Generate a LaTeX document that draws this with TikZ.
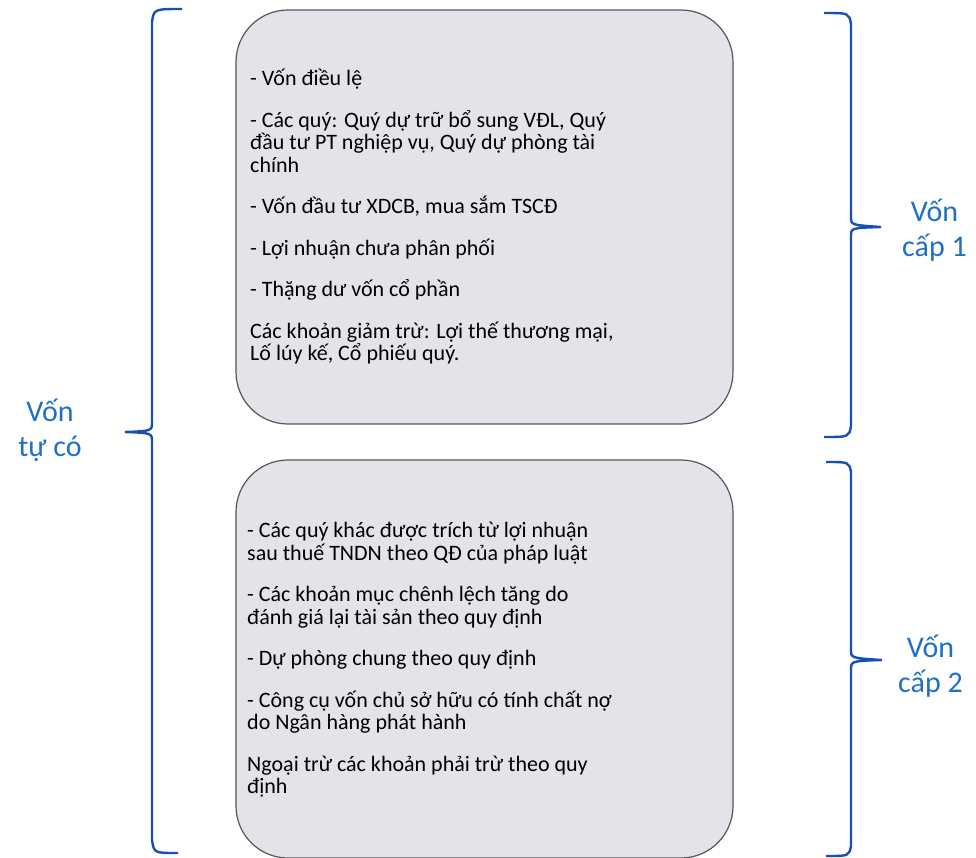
\documentclass[tikz,border=0pt]{standalone}
\usepackage{fontspec}
\setmainfont{Carlito}
\usetikzlibrary{positioning,calc}
\usepackage{xcolor}
\definecolor{boxfill}{RGB}{227,228,233}
\definecolor{boxline}{RGB}{85,85,90}
\definecolor{bracecol}{RGB}{22,80,176}
\definecolor{labelcol}{RGB}{30,112,196}

\tikzset{
  capbox/.style={draw=boxline, line width=1.2pt, fill=boxfill, rounded corners=52pt,
    minimum width=497pt, minimum height=#1, inner sep=0pt},
  boxtext/.style={anchor=north west, align=left, inner sep=0pt,
    font=\fontsize{22}{22.5}\selectfont},
  brace/.style={draw=bracecol, line width=2.4pt},
  sidelabel/.style={text=labelcol, align=center, inner sep=0pt,
    font=\fontsize{30}{35}\selectfont}
}

\begin{document}
\begin{tikzpicture}[x=1pt,y=-1pt]
  \useasboundingbox (0,0) rectangle (976,858);
  % the two groups
  \node[capbox=414pt] (box1) at (484.5,217) {};
  \node[capbox=398pt] (box2) at (484.5,659) {};
  \node[boxtext] (txt1) at (250,69) {- Vốn điều lệ\\[19pt]
    - Các quý: Quý dự trữ bổ sung VĐL, Quý\\
    đầu tư PT nghiệp vụ, Quý dự phòng tài\\
    chính\\[19pt]
    - Vốn đầu tư XDCB, mua sắm TSCĐ\\[19pt]
    - Lợi nhuận chưa phân phối\\[19pt]
    - Thặng dư vốn cổ phần\\[19pt]
    Các khoản giảm trừ: Lợi thế thương mại,\\
    Lố lúy kế, Cổ phiếu quý.};
  \node[boxtext] (txt2) at (247,522) {- Các quý khác được trích từ lợi nhuận\\
    sau thuế TNDN theo QĐ của pháp luật\\[19pt]
    - Các khoản mục chênh lệch tăng do\\
    đánh giá lại tài sản theo quy định\\[19pt]
    - Dự phòng chung theo quy định\\[19pt]
    - Công cụ vốn chủ sở hữu có tính chất nợ\\
    do Ngân hàng phát hành\\[19pt]
    Ngoại trừ các khoản phải trừ theo quy\\
    định};
  % labels
  \node[sidelabel] (own) at (50,430) {Vốn\\tự có};
  \node[sidelabel, anchor=west] (tier1) at (902,230) {Vốn\\cấp 1};
  \node[sidelabel, anchor=west] (tier2) at (898,666) {Vốn\\cấp 2};
  % braces
  \coordinate (ownTop) at (182,9);
  \coordinate (ownBot) at (178,853);
  \coordinate (ownTip) at (125,432);
  \draw[brace] (ownTop) .. controls (154,9) .. (152,22) -- (152,422)
    .. controls (152,431) .. (ownTip) .. controls (152,433) .. (152,442)
    -- (152,840) .. controls (154,853) .. (ownBot);
  \coordinate (t1Top) at (824,13);
  \coordinate (t1Bot) at (824,437);
  \coordinate (t1Tip) at (881,227);
  \draw[brace] (t1Top) .. controls (849,13) .. (851,24) -- (851,217)
    .. controls (851,225) .. (t1Tip) .. controls (851,228) .. (851,236)
    -- (851,426) .. controls (849,437) .. (t1Bot);
  \coordinate (t2Top) at (826,462);
  \coordinate (t2Bot) at (826,856);
  \coordinate (t2Tip) at (882,660);
  \draw[brace] (t2Top) .. controls (849,462) .. (851,472) -- (851,650)
    .. controls (851,658) .. (t2Tip) .. controls (851,661) .. (851,670)
    -- (851,846) .. controls (849,856) .. (t2Bot);
\end{tikzpicture}
\end{document}
